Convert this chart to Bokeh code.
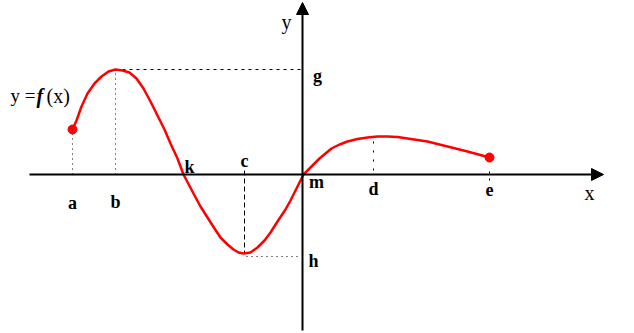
from bokeh.plotting import figure
from bokeh.models import Range1d, Arrow, NormalHead
from bokeh.core.properties import value
from bokeh.embed import file_html
from bokeh.resources import INLINE

# Coordinates: origin at m (intersection of axes), x right, y up (units ~ pixels)
curve_x = [-230, -226, -221, -215, -208, -201, -194, -187, -180, -173, -166, -159, -152,
           -145, -138, -132, -125, -119, -109, -102, -95, -88, -82, -75, -69, -64, -59,
           -52, -45, -38, -32, -25, -17, -12, -7, -3, 1, 6, 11, 17, 23, 29, 37, 45, 55,
           65, 75, 85, 95, 105, 115, 125, 135, 145, 155, 165, 176, 187]
curve_y = [45, 54, 68, 81, 91, 98, 103, 105, 104, 102, 96, 86, 73,
           59, 45, 31, 16, 0, -19, -32, -43, -54, -63, -70, -75, -78, -79,
           -78, -73, -66, -58, -47, -35, -26, -16, -8, 0, 5, 10, 16, 21, 26, 30, 33, 35.5,
           37, 38, 38, 37.5, 36, 34.5, 33, 30.5, 28, 25.5, 23, 20, 17]

end_x = [-230, 187]
end_y = [45, 17]

# axis extents
xaxis_x = [-273, 301]
yaxis_y = [-156, 172]

# special points: a, b, c, d, e on the x axis; g, h on the y axis
a_x, a_y = -230, 45
b_x, b_y = -187, 105
c_x, c_y = -58, -79
d_x, d_y = 71, 38
e_x, e_y = 187, 17
h_y = -82

lab_text = ["a", "b", "k", "c", "m", "d", "e", "g", "h"]
lab_x = [-230, -187, -113, -58, 14, 71, 187, 15, 11]
lab_y = [-28, -27, 8, 14, -7, -14, -15, 99, -86]

axis_lab_text = ["x", "y"]
axis_lab_x = [287, -16]
axis_lab_y = [-18, 153]

p = figure(width=634, height=333, output_backend="svg", toolbar_location=None,
           x_range=Range1d(-302, 332), y_range=Range1d(-159, 174), min_border=0)
p.axis.visible = False
p.grid.visible = False
p.outline_line_color = None
p.background_fill_color = "white"
p.border_fill_color = "white"

# axes with arrows
p.add_layout(Arrow(x_start=xaxis_x[0], y_start=0, x_end=xaxis_x[1], y_end=0,
                   line_color="black", line_width=2,
                   end=NormalHead(size=12, fill_color="black", line_color="black")))
p.add_layout(Arrow(x_start=0, y_start=yaxis_y[0], x_end=0, y_end=yaxis_y[1],
                   line_color="black", line_width=2,
                   end=NormalHead(size=12, fill_color="black", line_color="black")))

# guide lines
dot = dict(line_color="black", line_width=1, line_dash="1 4")
p.line([a_x, a_x], [0, a_y], **dot)
p.line([b_x, b_x], [0, b_y], **dot)
p.line([b_x, 0], [b_y, b_y], line_color="black", line_width=1, line_dash="3 4")
p.line([c_x, c_x], [4, c_y], line_color="black", line_width=1, line_dash="5 3")
p.line([c_x + 2, -2], [h_y, h_y], **dot)
p.line([d_x, d_x], [4, d_y - 4], line_color="black", line_width=1, line_dash="2 7")
p.line([e_x, e_x], [-6, 8], line_color="black", line_width=1, line_dash="2 5")

# the curve
p.line(curve_x, curve_y, line_color="red", line_width=2.5)
p.scatter(end_x, end_y, size=9, color="red")

# labels
p.text(lab_x, lab_y, text=lab_text, text_font=value("Liberation Serif"),
       text_font_style="bold", text_font_size="18px", text_align="center",
       text_baseline="middle", text_color="black")
p.text(axis_lab_x, axis_lab_y, text=axis_lab_text, text_font=value("Liberation Serif"),
       text_font_size="20px", text_align="center", text_baseline="middle",
       text_color="black")

p.text([-292], [79], text=["y ="], text_font=value("Liberation Serif"),
       text_font_size="19px", text_align="left", text_baseline="middle")
p.text([-266], [79], text=["f"], text_font=value("Liberation Serif"),
       text_font_style="bold italic", text_font_size="20px", text_align="left",
       text_baseline="middle")
p.text([-256], [79], text=["(x)"], text_font=value("Liberation Serif"),
       text_font_size="20px", text_align="left", text_baseline="middle")

open("out.html", "w").write(file_html(p, INLINE))
